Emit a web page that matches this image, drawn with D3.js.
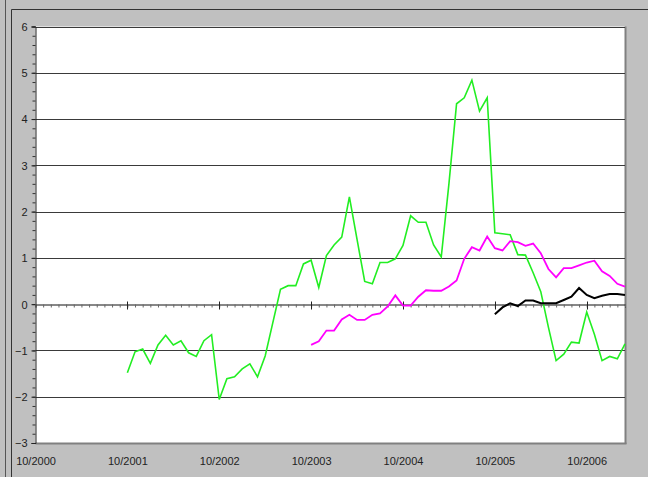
<!DOCTYPE html>
<html>
<head>
<meta charset="utf-8">
<script src="https://cdn.jsdelivr.net/npm/d3@7"></script>
<style>
  html, body { margin: 0; padding: 0; background: #c0c0c0; }
  svg { display: block; }
  text { font-family: "Liberation Sans Narrow", "Arial Narrow", "Liberation Sans", Arial, sans-serif; font-size: 11px; fill: #222; }
</style>
</head>
<body>
<svg id="chart" width="648" height="477"></svg>
<script>
// ---- data (month index 0 = 10/2000) ----
const tickLabels = ["10/2000", "10/2001", "10/2002", "10/2003", "10/2004", "10/2005", "10/2006"];
const yTicks = [-3, -2, -1, 0, 1, 2, 3, 4, 5, 6];

const greenStart = 12;
const greenValues = [
  -1.48, -1.03, -0.97, -1.28, -0.88, -0.67, -0.88, -0.79, -1.05, -1.13, -0.79, -0.66,
  -2.06, -1.61, -1.57, -1.40, -1.29, -1.57, -1.12, -0.40, 0.32, 0.40, 0.40, 0.87,
  0.95, 0.36, 1.05, 1.28, 1.45, 2.32, 1.40, 0.49, 0.44, 0.90, 0.90, 0.98,
  1.27, 1.91, 1.77, 1.77, 1.28, 1.02, 2.60, 4.33, 4.46, 4.84, 4.17, 4.46,
  1.54, 1.52, 1.50, 1.07, 1.06, 0.68, 0.27, -0.50, -1.22, -1.08, -0.82, -0.84,
  -0.17, -0.65, -1.22, -1.13, -1.18, -0.86
];

const magentaStart = 36;
const magentaValues = [
  -0.88, -0.80, -0.57, -0.57, -0.33, -0.23, -0.34, -0.34, -0.23, -0.20, -0.05, 0.19,
  -0.03, -0.03, 0.16, 0.30, 0.29, 0.29, 0.38, 0.51, 0.98, 1.23, 1.16, 1.46,
  1.21, 1.16, 1.36, 1.34, 1.26, 1.31, 1.10, 0.76, 0.58, 0.78, 0.78, 0.84,
  0.90, 0.94, 0.71, 0.61, 0.44, 0.38
];

const blackStart = 60;
const blackValues = [
  -0.22, -0.07, 0.02, -0.04, 0.08, 0.08, 0.02, 0.02, 0.02, 0.09, 0.16, 0.35,
  0.20, 0.13, 0.18, 0.22, 0.22, 0.20
];

const lastMonth = 77;

// ---- layout ----
const svg = d3.select("#chart");
const W = 648, H = 477;
const L = 35.5, R = 625, T = 26.5, B = 443;

const x = d3.scaleLinear().domain([0, lastMonth]).range([L, R]);
const y = d3.scaleLinear().domain([-3, 6]).range([B, T]);

// background frame
svg.append("rect").attr("width", W).attr("height", H).attr("fill", "#c0c0c0");
svg.append("line").attr("x1", 5.5).attr("x2", 5.5).attr("y1", 0).attr("y2", H).attr("stroke", "#555");
svg.append("line").attr("x1", 11.5).attr("x2", 11.5).attr("y1", 9.5).attr("y2", H).attr("stroke", "#333");
svg.append("line").attr("x1", 11.5).attr("x2", W).attr("y1", 9.5).attr("y2", 9.5).attr("stroke", "#333");

// plot area
svg.append("rect").attr("x", L).attr("y", T).attr("width", R - L).attr("height", B - T).attr("fill", "#fff");
svg.append("line").attr("x1", R + 0.5).attr("x2", R + 0.5).attr("y1", T).attr("y2", B + 1).attr("stroke", "#808080").attr("stroke-width", 2);
svg.append("line").attr("x1", L).attr("x2", R + 1.5).attr("y1", B + 0.5).attr("y2", B + 0.5).attr("stroke", "#808080").attr("stroke-width", 2);

// gridlines
svg.append("g").selectAll("line").data(yTicks.filter(v => v !== 0 && v !== -3)).join("line")
  .attr("x1", L).attr("x2", R)
  .attr("y1", d => Math.round(y(d)) + 0.5).attr("y2", d => Math.round(y(d)) + 0.5)
  .attr("stroke", "#3a3a3a").attr("stroke-width", 1);

// y axis
const minorY = d3.range(-3, 6.001, 0.2).map(v => +v.toFixed(1));
const yMinor = svg.append("g").attr("transform", `translate(${L},0)`)
  .call(d3.axisLeft(y).tickValues(minorY).tickSize(3).tickFormat(""));
yMinor.select(".domain").remove();
yMinor.selectAll("line").attr("stroke", "#333");
const yAxis = svg.append("g").attr("transform", `translate(${L},0)`)
  .call(d3.axisLeft(y).tickValues(yTicks).tickSize(4).tickPadding(4).tickFormat(d3.format("d")));
yAxis.select(".domain").attr("stroke", "#222");
yAxis.selectAll("line").attr("stroke", "#222");
yAxis.selectAll("text").style("font-size", "11px").attr("dy", "0.35em");

// x axis (on zero line)
const y0 = Math.round(y(0)) + 0.5;
const xMinor = svg.append("g").attr("transform", `translate(0,${y0})`)
  .call(d3.axisBottom(x).tickValues(d3.range(0, lastMonth + 1)).tickSize(3).tickFormat(""));
xMinor.select(".domain").attr("stroke", "#111");
xMinor.selectAll(".tick line").attr("stroke", "#666");
const majorX = tickLabels.map((_, i) => i * 12);
svg.append("g").selectAll("line").data(majorX.slice(1)).join("line")
  .attr("x1", d => Math.round(x(d)) + 0.5).attr("x2", d => Math.round(x(d)) + 0.5)
  .attr("y1", y0 - 3).attr("y2", y0 + 5).attr("stroke", "#222");

// x labels at bottom
const xLab = svg.append("g").attr("transform", `translate(0,${B})`)
  .call(d3.axisBottom(x).tickValues(majorX).tickSize(0).tickPadding(14).tickFormat((d, i) => tickLabels[i]));
xLab.select(".domain").remove();
xLab.selectAll("text").style("font-size", "11px");

// series
const line = d3.line().x(d => x(d[0])).y(d => y(d[1]));
function series(start, vals, color, width) {
  const pts = vals.map((v, i) => [start + i, v]);
  svg.append("path").datum(pts).attr("d", line)
    .attr("fill", "none").attr("stroke", color).attr("stroke-width", width)
    .attr("stroke-linejoin", "miter");
}
series(greenStart, greenValues, "#22ee22", 1.6);
series(magentaStart, magentaValues, "#ff00ff", 1.8);
series(blackStart, blackValues, "#000000", 2);
</script>
</body>
</html>
